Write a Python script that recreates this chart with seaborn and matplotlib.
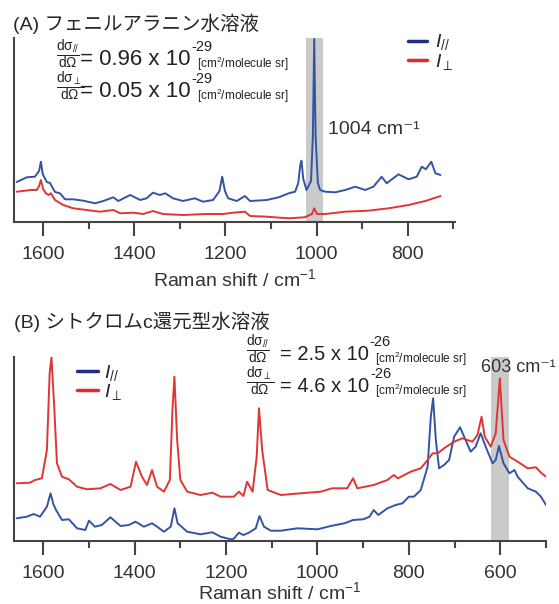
import numpy as np
import pandas as pd
import matplotlib
matplotlib.use('Agg')
import matplotlib.pyplot as plt
from matplotlib.ticker import MultipleLocator
import seaborn as sns

# ---- data (intensity in arbitrary units) ----
# (A) phenylalanine
a_par_shift = [1658, 1636, 1618, 1609, 1605, 1601, 1592, 1585, 1574, 1563, 1552, 1534, 1512, 1486,
               1468, 1446, 1435, 1409, 1387, 1373, 1359, 1344, 1332, 1315, 1293, 1267, 1249, 1227,
               1213, 1207, 1201, 1194, 1175, 1157, 1146, 1109, 1083, 1061, 1047, 1040, 1036, 1033,
               1029, 1022, 1012, 1008, 1005, 1002, 997, 992, 981, 959, 937, 915, 893, 875, 857,
               846, 820, 798, 780, 769, 760, 748, 739, 728]
a_par_int = [39, 43.7, 44.3, 50, 59.3, 47, 39, 38, 29, 27.7, 21.7, 21.7, 20.3, 17.7,
             20, 23.7, 20, 26, 21, 22.7, 28.3, 26, 27.7, 22.7, 20, 22.7, 19.3, 21,
             30, 44.3, 30, 22.7, 20, 25, 20, 21, 23.7, 27.7, 29.3, 38, 55, 60.3,
             42, 31, 40, 85, 182, 85, 38, 31, 29.3, 28.7, 31, 34.3, 31, 34.3, 44.3,
             37.7, 46.7, 41.7, 44.3, 54.3, 51.7, 59.3, 47.7, 46]
a_perp_shift = [1658, 1627, 1614, 1609, 1605, 1600, 1594, 1588, 1583, 1574, 1556, 1534, 1505, 1475,
                1446, 1431, 1402, 1380, 1359, 1337, 1293, 1242, 1205, 1183, 1157, 1146, 1109, 1080,
                1061, 1026, 1010, 1005, 999, 981, 937, 886, 842, 798, 761, 728]
a_perp_int = [29.3, 31, 31, 35, 41, 32, 27.7, 26, 27.7, 21, 16, 12.7, 11, 9.3,
              11, 7.7, 8.3, 7, 10, 7, 6, 7, 7, 8.3, 9.3, 5, 4.3, 3.3,
              2.7, 3.7, 7, 12.7, 7, 7, 9.3, 10.3, 12.7, 16, 20, 25]

# (B) reduced cytochrome c
b_par_shift = [1658, 1636, 1621, 1607, 1592, 1584, 1578, 1572, 1559, 1544, 1526, 1508, 1500, 1487,
               1472, 1453, 1431, 1413, 1398, 1380, 1362, 1351, 1336, 1321, 1313, 1306, 1285, 1256,
               1230, 1212, 1190, 1183, 1172, 1162, 1150, 1135, 1127, 1117, 1102, 1080, 1044, 1000,
               971, 941, 922, 900, 886, 877, 867, 847, 829, 814, 800, 789, 774, 759, 752,
               747, 741, 734, 723, 712, 701, 688, 676, 665, 654, 643, 632, 617, 610, 603,
               593, 580, 569, 562, 540, 522, 511, 500]
b_par_int = [21.7, 23.3, 26, 23.3, 33.3, 46.7, 36, 30, 20, 20.7, 11.7, 10, 19.3, 13.3,
             15, 22.7, 14, 15, 18.3, 13.3, 16.7, 13.3, 8.3, 13.3, 31.7, 16.7, 8.3, 5.7,
             7.7, 3.3, 0.7, 1.3, 7.3, 5, 7.3, 11.7, 24, 13.3, 9.3, 9.3, 11.7, 10.7,
             14, 16.7, 20, 20.7, 23.3, 30, 25, 31.7, 35, 36.7, 43.3, 43.3, 50, 73.3, 123.3,
             141.7, 100, 71.7, 75, 80, 103.3, 112.7, 100, 88.3, 93.3, 106.7, 93.3, 76.7, 80, 94,
             76.7, 66.7, 70, 63.3, 51.7, 48.3, 43.3, 35]
b_perp_shift = [1658, 1629, 1618, 1603, 1592, 1586, 1582, 1576, 1570, 1559, 1544, 1526, 1504, 1475,
                1453, 1431, 1409, 1397, 1384, 1373, 1362, 1351, 1336, 1323, 1317, 1313, 1307, 1300,
                1285, 1256, 1230, 1212, 1183, 1172, 1162, 1154, 1142, 1133, 1128, 1121, 1109, 1080,
                1037, 993, 968, 935, 922, 913, 877, 847, 833, 824, 796, 774, 759, 748, 737,
                723, 701, 683, 661, 650, 641, 634, 621, 610, 601, 593, 580, 562, 540, 522,
                511, 500]
b_perp_int = [56.7, 57.3, 60, 61.7, 90, 166.7, 183, 133, 76.7, 63.3, 60.7, 53.3, 50.7, 51.7,
              56, 50, 53.3, 78.3, 63.3, 55, 70, 53.3, 48.3, 60, 133, 163.3, 100, 60,
              48.3, 45, 47.3, 43.3, 43.3, 48.3, 44, 58.3, 48.3, 83.3, 131.7, 90, 50, 45,
              46.7, 48.3, 51.7, 51.7, 61.7, 51.7, 55, 60, 65, 61.7, 68.3, 71.7, 80, 86.7, 86.7,
              91.7, 98.3, 101.7, 98.3, 105, 123.3, 103.3, 93.3, 106.7, 161.7, 100, 83.3, 78.3, 71.7, 72.7,
              67.3, 63.3]

labels = [r'$I_{//}$', r'$I_{\perp}$']
colors = ['#3354a5', '#e03535']
bands = {'A': (985, 1022), 'B': (582, 620)}


def make_df(par_shift, par_int, perp_shift, perp_int):
    df1 = pd.DataFrame({'shift': par_shift, 'intensity': par_int, 'pol': labels[0]})
    df2 = pd.DataFrame({'shift': perp_shift, 'intensity': perp_int, 'pol': labels[1]})
    return pd.concat([df1, df2], ignore_index=True)


df_a = make_df(a_par_shift, a_par_int, a_perp_shift, a_perp_int)
df_b = make_df(b_par_shift, b_par_int, b_perp_shift, b_perp_int)

sns.set_style('ticks')
plt.rcParams['font.family'] = ['Liberation Sans', 'Noto Sans CJK JP', 'DejaVu Sans']
plt.rcParams['mathtext.fontset'] = 'custom'
plt.rcParams['mathtext.rm'] = 'Liberation Sans'
plt.rcParams['mathtext.it'] = 'Liberation Sans:italic'
plt.rcParams['mathtext.sf'] = 'Liberation Sans'

W, H = 559, 604
fig = plt.figure(figsize=(W / 100, H / 100), dpi=100)


def px(x, y):
    return x / W, 1 - y / H


ax_a = fig.add_axes([14 / W, 1 - 222 / H, 441 / W, 184 / H])
ax_b = fig.add_axes([14 / W, 1 - 541 / H, 532 / W, 184 / H])

for ax, df, band, xlim, lpad in [(ax_a, df_a, bands['A'], (1664, 696), 4),
                                 (ax_b, df_b, bands['B'], (1664, 500), 0)]:
    ax.axvspan(band[0], band[1], color='#cacaca', lw=0, zorder=0)
    sns.lineplot(data=df, x='shift', y='intensity', hue='pol', hue_order=labels,
                 palette=colors, estimator=None, lw=1.4, ax=ax)
    ax.set_xlim(*xlim)
    ax.set_ylim(-1, 183)
    ax.set_yticks([])
    ax.set_ylabel('')
    ax.xaxis.set_major_locator(MultipleLocator(200))
    ax.xaxis.set_minor_locator(MultipleLocator(100))
    ax.tick_params(axis='x', which='major', length=10, width=1.5, pad=7,
                   labelsize=14, color='#444444', labelcolor='#333333')
    ax.tick_params(axis='x', which='minor', length=5, width=1.5, color='#444444')
    ax.set_xlabel('Raman shift / cm$^{-1}$', fontsize=14, labelpad=lpad, color='#333333')
    sns.despine(ax=ax)
    for s in ['left', 'bottom']:
        ax.spines[s].set_color('#444444')
        ax.spines[s].set_linewidth(1.5)

sns.move_legend(ax_a, 'upper left', bbox_to_anchor=(0.893, 1.03), frameon=False, title=None,
                fontsize=14, handlelength=1.0, handletextpad=0.4, labelspacing=-0.05,
                borderpad=0, borderaxespad=0)
sns.move_legend(ax_b, 'upper left', bbox_to_anchor=(0.118, 0.97), frameon=False, title=None,
                fontsize=14, handlelength=1.1, handletextpad=0.3, labelspacing=-0.05,
                borderpad=0, borderaxespad=0)
for ax in [ax_a, ax_b]:
    leg = ax.get_legend()
    for h, c in zip(leg.legend_handles, ['#1f2f85', '#e02a2a']):
        h.set_linewidth(2.5)
        h.set_color(c)

# peak labels
ax_a.text(974, 91, '1004 cm⁻¹', fontsize=14, va='center', ha='left', color='#333333')
ax_b.text(643, 172, '603 cm⁻¹', fontsize=13, va='center', ha='left', color='#333333',
          clip_on=False)

# titles
fig.text(*px(13, 24), '(A) フェニルアラニン水溶液', fontsize=14, va='center', ha='left')
fig.text(*px(14, 322), '(B) シトクロムc還元型水溶液', fontsize=14, va='center', ha='left')

# cross sections
frac_par = r'$\frac{\mathrm{d\sigma_{//}}}{\mathrm{d\Omega}}$'
frac_perp = r'$\frac{\mathrm{d\sigma_{\perp}}}{\mathrm{d\Omega}}$'
unit = '[cm$^2$/molecule sr]'
eqs = [
    (56, 80, 65, 16, frac_par, '= 0.96 x 10', '-29'),
    (56, 80, 97, 16, frac_perp, '= 0.05 x 10', '-29'),
    (246, 280, 360, 14.5, frac_par, '= 2.5 x 10', '-26'),
    (246, 280, 392, 14.5, frac_perp, '= 4.6 x 10', '-26'),
]
fig.canvas.draw()
rend = fig.canvas.get_renderer()
for xf, xe, base, fs, frac, val, expo in eqs:
    fig.text(*px(xf, base - 10), frac, fontsize=14, va='center', ha='left', color='#222222')
    t = fig.text(*px(xe, base), val, fontsize=fs, va='baseline', ha='left', color='#222222')
    x_end = t.get_window_extent(rend).x1
    fig.text(*px(x_end + 1, base - 14), expo, fontsize=10.5, va='baseline', ha='left',
             color='#222222')
    fig.text(*px(x_end + 6, base + 3), unit, fontsize=8.5, va='baseline', ha='left',
             color='#222222')

fig.savefig('out.png', dpi=100, facecolor='white')
